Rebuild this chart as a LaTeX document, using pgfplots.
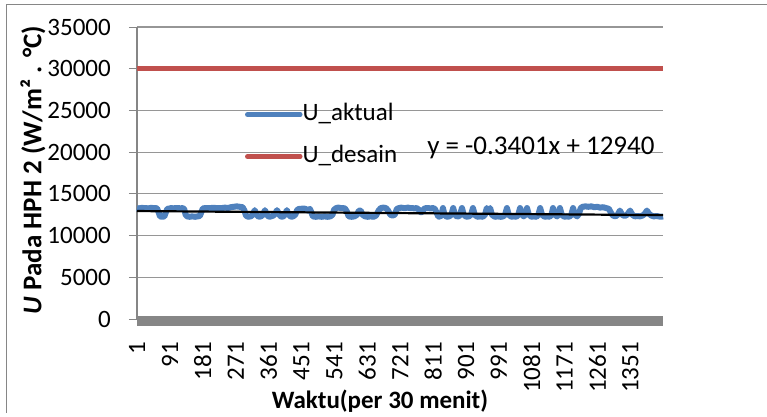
\documentclass[border=0pt]{standalone}
\usepackage{pgfplots}
\pgfplotsset{compat=1.18}
\usepackage{fontspec}
\setmainfont{Carlito}
\definecolor{cblue}{RGB}{79,129,189}
\definecolor{cred}{RGB}{192,80,77}
\definecolor{cgray}{RGB}{134,134,134}
\definecolor{cgrid}{RGB}{150,150,150}
\begin{document}
\begin{tikzpicture}
\useasboundingbox (0,0) rectangle (767bp,417bp);
\draw[cgray, line width=1bp] (6bp,4bp) -- (6bp,412bp) -- (767bp,412bp);
\begin{axis}[
  at={(137bp,98bp)}, anchor=south west,
  scale only axis, width=526bp, height=292bp,
  xmin=1, xmax=1440, ymin=0, ymax=35000,
  clip=false,
  font=\fontsize{25bp}{29bp}\selectfont,
  /pgf/number format/assume math mode=true,
  scaled y ticks=false,
  axis y line*=left, axis x line*=bottom,
  x axis line style={draw=none},
  y axis line style={draw=cgray, line width=1.3bp, -},
  xtick={1,91,181,271,361,451,541,631,721,811,901,991,1081,1171,1261,1351},
  xticklabels={1,91,181,271,361,451,541,631,721,811,901,991,1081,1171,1261,1351},
  xtick style={draw=none},
  xticklabel style={rotate=90, anchor=east, inner sep=0pt, xshift=-15bp},
  ytick={0,5000,...,35000},
  yticklabel style={anchor=east, inner sep=0pt, xshift=-18bp},
  /pgf/number format/set thousands separator={},
  ytick style={draw=cgray, line width=1bp},
  major tick length=8bp, tick align=outside,
  ymajorgrids, grid style={cgrid, line width=1.1bp},
  xlabel={\bfseries Waktu(per 30 menit)},
  xlabel style={at={(axis description cs:0.462,-0.282)}, anchor=center, inner sep=0pt},
  ylabel={\bfseries\itshape U\upshape\ Pada HPH 2 (W/m² . °C)},
  ylabel style={at={(axis description cs:-0.198,0.51)}, anchor=center, inner sep=0pt,
    font=\fontsize{27bp}{31bp}\selectfont},
  legend style={at={(0.205,0.742)}, anchor=north west, draw=none, fill=none,
    inner sep=0pt, row sep=18bp,
    nodes={inner sep=0pt, anchor=west, text height=18bp, text depth=6bp},
    font=\fontsize{25bp}{29bp}\selectfont},
  legend cell align=left,
  legend image code/.code={\draw[#1, line width=4.5bp, line cap=round] (0bp,0bp) -- (53bp,0bp);},
]
\addplot[cblue, line width=6bp, line join=round] coordinates {
(1,13300)(6,13250)(11,13300)(16,13320)(21,13280)(26,13300)(31,13250)(36,13300)(41,13320)(46,13280)(51,13300)(56,13250)
(60,12800)(64,12300)(70,12250)(76,12300)(80,12800)(84,13200)
(90,13250)(95,13300)(100,13250)(105,13300)(110,13280)(115,13300)(120,13250)(125,13300)(130,13200)
(134,12500)(138,12300)(145,12250)(152,12300)(160,12250)(167,12300)(173,12350)(177,12800)
(181,13250)(188,13300)(195,13280)(202,13300)(210,13320)(218,13300)(226,13280)(234,13300)(242,13350)(250,13300)(258,13400)(266,13450)(274,13500)(282,13450)(290,13400)(295,13000)
(299,12400)(305,12250)(312,12300)(318,12500)(323,13050)(328,12500)(334,12250)(340,12300)(346,12500)(351,13050)(356,12500)(362,12250)(368,12300)(374,12400)(379,12600)(384,13050)(389,12600)(394,12300)(400,12250)(406,12500)(411,13050)(416,12500)(422,12250)(428,12300)(434,12500)(439,13050)(444,13200)(450,13200)(456,13250)(462,13200)(468,13000)(474,13200)(478,12800)
(482,12300)(490,12250)(498,12300)(506,12250)(514,12300)(522,12250)(530,12300)(536,12500)
(540,13100)(546,13300)(552,13350)(558,13300)(564,13300)(570,13250)(575,12900)
(580,12300)(588,12250)(596,12300)(603,12500)(608,13000)(613,13000)(618,12500)(625,12300)(632,12250)(640,12300)(648,12250)(655,12400)
(662,13000)(668,13300)(675,13350)(682,13300)(688,13000)(694,12500)(700,12400)(706,12500)
(712,13200)(718,13300)(724,13350)(730,13300)(736,13300)(742,13350)(748,13300)(754,13300)(760,13250)(766,13300)(772,13100)(776,12800)(781,12800)(786,13200)(792,13300)(798,13300)(804,13250)(810,13300)(816,13200)(820,12800)
(825,12300)(830,12250)(834,12500)(838,13300)(842,12500)(848,12250)(855,12300)(861,12500)(866,13300)(871,12500)(877,12250)(884,12400)(890,13300)(895,12500)(902,12250)(909,12300)(915,12500)(920,13300)(925,12500)(932,12250)(940,12300)(947,12250)(953,12500)(958,13300)(963,13000)(967,13300)(972,12500)(980,12250)(988,12300)(996,12250)(1003,12300)(1008,12500)(1013,13300)(1018,12500)(1025,12250)(1032,12300)(1039,12250)(1044,12500)(1049,13300)(1054,12500)(1059,12300)(1063,12500)(1068,13300)(1073,12500)(1080,12250)(1087,12300)(1094,12250)(1099,12500)(1104,13300)(1109,12500)(1116,12250)(1123,12300)(1130,12250)(1135,12500)(1139,13300)(1144,12500)(1150,12300)(1154,12500)(1158,13300)(1163,12500)(1170,12250)(1177,12300)(1184,12250)(1189,12500)(1194,13300)(1199,12500)(1205,12300)(1210,12600)
(1215,13300)(1220,13450)(1228,13500)(1236,13450)(1244,13500)(1252,13400)(1260,13450)(1268,13350)(1276,13400)(1284,13300)(1292,13200)(1298,12700)
(1303,12400)(1310,12300)(1316,12500)(1322,13000)(1328,12500)(1335,12350)(1342,12500)(1350,13000)(1356,12500)(1363,12300)(1370,12350)(1377,12300)(1384,12400)(1390,12600)(1396,13000)(1402,12600)(1408,12400)(1415,12300)(1422,12350)(1428,12300)(1434,12250)(1440,12300)
};
\addlegendentry{U\_aktual}
\addplot[cred, line width=5.5bp] coordinates {(1,30000) (1440,30000)};
\addlegendentry{U\_desain}
\addplot[black, line width=2.2bp, forget plot] coordinates {(1,12940) (1440,12450)};
\addplot[cgray, line width=9bp, yshift=-2bp, forget plot] coordinates {(1,0) (1440,0)};
\node[inner sep=0pt, font=\fontsize{27bp}{31bp}\selectfont] at (axis cs:1106,20480) {y = -0.3401x + 12940};
\end{axis}
\end{tikzpicture}
\end{document}
